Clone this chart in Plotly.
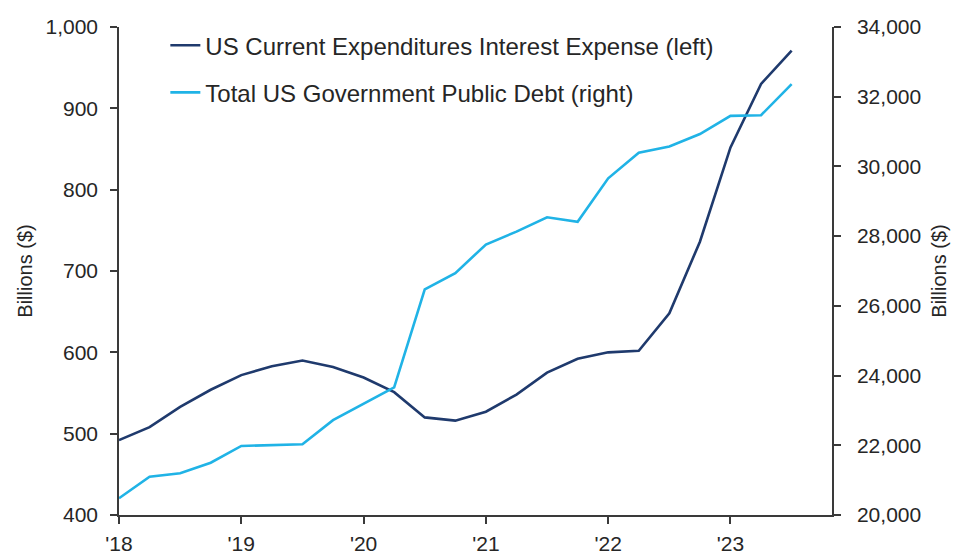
import plotly.graph_objects as go

# Quarterly observations, Q1 2018 through Q3 2023 (fractional years)
quarters = [2018.0, 2018.25, 2018.5, 2018.75,
            2019.0, 2019.25, 2019.5, 2019.75,
            2020.0, 2020.25, 2020.5, 2020.75,
            2021.0, 2021.25, 2021.5, 2021.75,
            2022.0, 2022.25, 2022.5, 2022.75,
            2023.0, 2023.25, 2023.5]

# US current expenditures: interest expense, billions of dollars (left axis)
interest_expense = [492, 508, 533, 554,
                    572, 583, 590, 582,
                    569, 551, 520, 516,
                    527, 548, 575, 592,
                    600, 602, 648, 736,
                    852, 930, 971]

# Total US government public debt, billions of dollars (right axis)
public_debt = [20480, 21100, 21200, 21500,
               21980, 22010, 22030, 22720,
               23200, 23660, 26470, 26940,
               27760, 28130, 28540, 28410,
               29660, 30390, 30570, 30930,
               31450, 31470, 32360]

year_ticks = [2018, 2019, 2020, 2021, 2022, 2023]
year_labels = ["'18", "'19", "'20", "'21", "'22", "'23"]

left_ticks = [400, 500, 600, 700, 800, 900, 1000]
right_ticks = [20000, 22000, 24000, 26000, 28000, 30000, 32000, 34000]

DARK = "#1f3a6d"
LIGHT = "#20b3e6"
TEXT = "#262626"
AXIS = "#3a3a3a"
FONT = "Liberation Sans, Arial, sans-serif"

fig = go.Figure()
fig.add_trace(go.Scatter(
    x=quarters, y=interest_expense, mode="lines",
    name="US Current Expenditures Interest Expense (left)",
    line=dict(color=DARK, width=2.6), legendgroup="a", yaxis="y"))
fig.add_trace(go.Scatter(
    x=quarters, y=public_debt, mode="lines",
    name="Total US Government Public Debt (right)",
    line=dict(color=LIGHT, width=2.6), legendgroup="b", yaxis="y2"))

fig.update_layout(
    width=960, height=554,
    margin=dict(l=119, r=128, t=27, b=39, autoexpand=False),
    paper_bgcolor="white", plot_bgcolor="white",
    font=dict(family=FONT, color=TEXT, size=21),
    showlegend=True,
    legend=dict(
        x=0.065, y=1.008, xanchor="left", yanchor="top",
        bgcolor="rgba(0,0,0,0)", borderwidth=0,
        font=dict(size=24, color=TEXT),
        traceorder="grouped", tracegroupgap=13,
    ),
    xaxis=dict(
        range=[2018, 2023.83], tickvals=year_ticks, ticktext=year_labels,
        automargin=False,
        showgrid=False, zeroline=False,
        showline=True, linecolor=AXIS, linewidth=1.5,
        ticks="outside", ticklen=7, tickcolor=AXIS, tickwidth=1.5,
        ticklabelstandoff=2,
        tickfont=dict(size=21, color=TEXT),
    ),
    yaxis=dict(
        range=[400, 1000], tickvals=left_ticks, tickformat=",d",
        automargin=False,
        showgrid=False, zeroline=False,
        showline=True, linecolor=AXIS, linewidth=1.5,
        ticks="outside", ticklen=7, tickcolor=AXIS, tickwidth=1.5,
        ticklabelstandoff=8,
        tickfont=dict(size=21, color=TEXT),
        title=dict(text="Billions ($)", font=dict(size=20, color=TEXT), standoff=7),
    ),
    yaxis2=dict(
        range=[20000, 34000], tickvals=right_ticks, tickformat=",d",
        overlaying="y", side="right",
        automargin=False,
        showgrid=False, zeroline=False,
        showline=True, linecolor=AXIS, linewidth=1.5,
        ticks="outside", ticklen=7, tickcolor=AXIS, tickwidth=1.5,
        ticklabelstandoff=12,
        tickfont=dict(size=21, color=TEXT),
        title=dict(text="Billions ($)", font=dict(size=20, color=TEXT), standoff=12),
    ),
)

fig.write_html("out.html")
